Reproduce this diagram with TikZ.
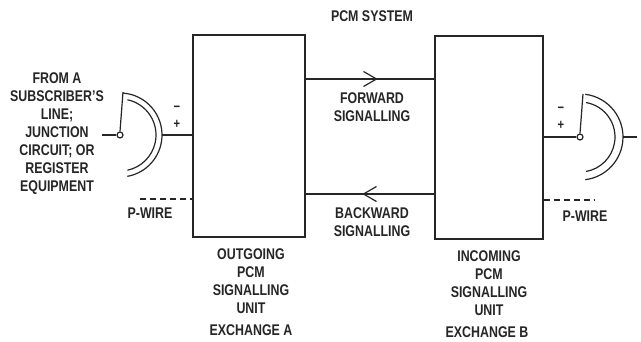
\documentclass[tikz,border=0pt]{standalone}
\usepackage{fontspec}
\setmainfont{Liberation Sans}[FakeStretch=0.8]
\usetikzlibrary{arrows.meta}
\usetikzlibrary{calc}
\usetikzlibrary{decorations.markings}

\tikzset{
  wire/.style={line width=1.2pt, draw=black!85},
  unitbox/.style={wire, rectangle, inner sep=0pt},
  contact/.style={wire, circle, fill=white, inner sep=0pt, minimum size=6pt},
  lbl/.style={text=black!85, align=center, inner sep=0pt,
    font=\bfseries\fontsize{15.5}{18}\selectfont},
  sign/.style={text=black!85, inner sep=0pt, font=\bfseries\fontsize{14}{14}\selectfont},
  sig/.style={wire, postaction={decorate}, decoration={markings,
    mark=at position 0.56 with {\arrow{Straight Barb[length=13pt,width=15pt,line width=1.2pt]}}}},
  pwire/.style={wire, dash pattern=on 6pt off 4pt},
}

\begin{document}
\begin{tikzpicture}[x=1pt,y=-1pt]
  \useasboundingbox[fill=white] (0,0) rectangle (641,342);

  % the two signalling units
  \node[unitbox, minimum width=112pt, minimum height=202pt] (outa) at (249,136) {};
  \node[unitbox, minimum width=108pt, minimum height=203pt] (inb) at (489,137.5) {};

  \node[lbl] (pcm) at (372,16) {PCM SYSTEM};

  % forward and backward signalling
  \coordinate (fwdy) at (0,79);
  \coordinate (bwdy) at (0,194);
  \draw[sig] (outa.east |- fwdy) -- (inb.west |- fwdy);
  \draw[sig] (inb.west |- bwdy) -- (outa.east |- bwdy);
  \node[lbl] (fwd) at (372,107) {FORWARD\\SIGNALLING};
  \node[lbl] (bwd) at (372,222) {BACKWARD\\SIGNALLING};

  % exchange A side
  \node[lbl] (from) at (57,134) {FROM A\\SUBSCRIBER'S\\LINE;\\JUNCTION\\CIRCUIT; OR\\REGISTER\\EQUIPMENT};
  \node[contact] (conta) at (120,135) {};
  \coordinate (leada) at (102,135);
  \draw[wire] (leada) -- (conta.west);
  \draw[wire] (conta.north) -- (123,92);
  \draw[wire] ([shift={(-86:42)}]conta.center) arc[start angle=-86, end angle=80, radius=42];
  \draw[wire] ([shift={(-78:36)}]conta.center) arc[start angle=-78, end angle=78, radius=36];
  \coordinate (tipa) at ($(conta.center)+(42,0)$);
  \draw[wire] (tipa) -- (outa.west |- tipa);
  \node[sign] (mina) at (177,109) {−};
  \node[sign] (plusa) at (177,124) {+};
  \coordinate (pa) at (140,199);
  \draw[pwire] (pa) -- (outa.west |- pa);
  \node[lbl] (pwa) at (150,213) {P-WIRE};
  \node[lbl] (outlbl) at (251,281) {OUTGOING\\PCM\\SIGNALLING\\UNIT};
  \node[lbl] (exa) at (251,330) {EXCHANGE A};

  % exchange B side
  \node[contact] (contb) at (580,137) {};
  \draw[wire] (inb.east |- contb) -- (contb.west);
  \draw[wire] (contb.north) -- (583,94);
  \draw[wire] ([shift={(-83:43)}]contb.center) arc[start angle=-83, end angle=83, radius=43];
  \draw[wire] ([shift={(-80:35)}]contb.center) arc[start angle=-80, end angle=80, radius=35];
  \coordinate (tipb) at ($(contb.center)+(43,0)$);
  \draw[wire] (tipb) -- ++(14,0);
  \node[sign] (minb) at (561,110) {−};
  \node[sign] (plusb) at (561,125) {+};
  \coordinate (pb) at (595,200);
  \draw[pwire] (inb.east |- pb) -- (pb);
  \node[lbl] (pwb) at (585,216) {P-WIRE};
  \node[lbl] (inlbl) at (489,283) {INCOMING\\PCM\\SIGNALLING\\UNIT};
  \node[lbl] (exb) at (487,332) {EXCHANGE B};
\end{tikzpicture}
\end{document}
